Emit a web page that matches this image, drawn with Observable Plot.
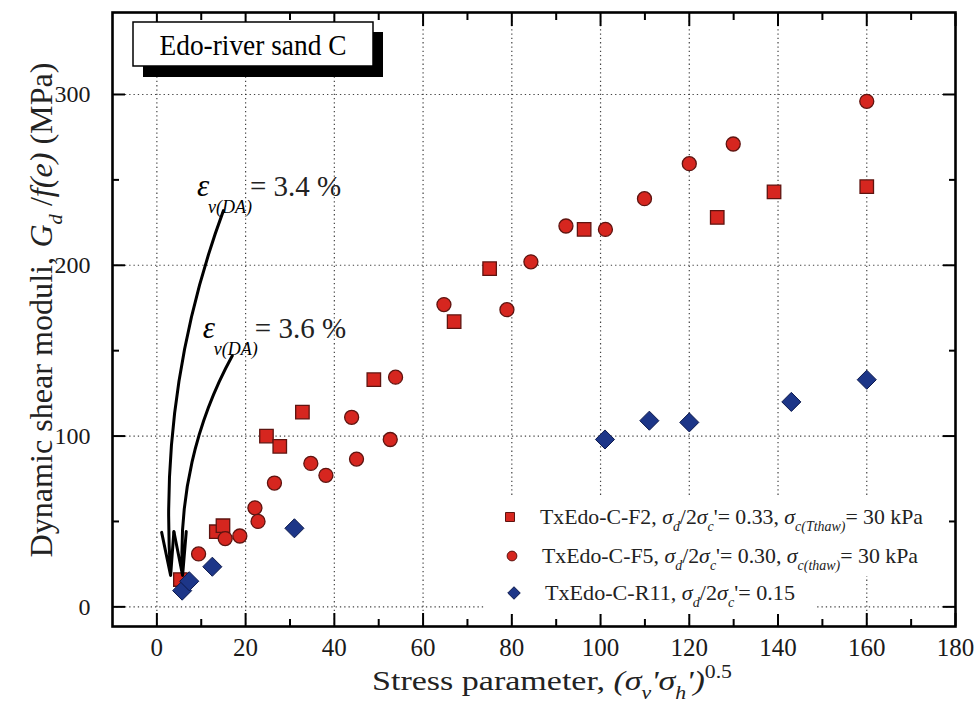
<!DOCTYPE html>
<html><head><meta charset="utf-8">
<script src="https://cdn.jsdelivr.net/npm/d3@7"></script>
<script src="https://cdn.jsdelivr.net/npm/@observablehq/plot@0.6"></script>
<style>
body{margin:0;background:#fff;}
#chart{width:980px;height:713px;}
</style></head><body><div id="chart"></div>
<script>
// ---- data ----
const f2X = [5.3, 13.4, 14.9, 24.7, 27.7, 32.8, 48.9, 67.0, 75.0, 96.3, 126.3, 139.1, 160];
const f2Y = [16, 44, 47.5, 100, 94, 114, 133, 167, 198, 221, 228, 243, 246];
const f5X = [9.4, 15.4, 18.7, 22.1, 22.8, 26.5, 34.7, 38.1, 43.9, 45.0, 52.6, 53.8, 64.7, 78.9, 84.3, 92.2, 101.1, 109.9, 120.0, 129.9, 160];
const f5Y = [31, 40, 41.5, 58, 50, 72.5, 84, 77, 111, 86.5, 98, 134.5, 177, 174, 202, 223, 221, 239, 259.5, 271, 296];
const r11X = [5.7, 7.3, 12.5, 31.0, 101.0, 111.0, 120.0, 143.0, 160];
const r11Y = [9.5, 15, 23.5, 46, 98, 109, 108, 120, 133];

const xMajor = [0, 20, 40, 60, 80, 100, 120, 140, 160, 180];
const xMinor = [10, 30, 50, 70, 90, 110, 130, 150, 170];
const yMajor = [0, 100, 200, 300];
const yMinor = [50, 150, 250];
const xGrid = [0, 20, 40, 60, 80, 100, 120, 140, 160];
const yGrid = [0, 100, 200, 300];

const seriesNames = ["TxEdo-C-F2", "TxEdo-C-F5", "TxEdo-C-R11"];
const seriesRatio = ["0.33", "0.30", "0.15"];
const seriesThaw = ["c(Tthaw)", "c(thaw)", null];
const panelTitle = "Edo-river sand C";

const epsText = ["= 3.4 %", "= 3.6 %"];
const epsX = [21.1, 22.2];
const epsY = [240, 157.2];
const arrowX1 = [15.0, 17.0], arrowY1 = [232, 147];
const arrowX2 = [3.1, 5.8], arrowY2 = [18.4, 18.4];

// ---- tables ----
const tab = (xs, ys) => xs.map((x, i) => ({x, y: ys[i]}));
const f2 = tab(f2X, f2Y), f5 = tab(f5X, f5Y), r11 = tab(r11X, r11Y);
const arrows = arrowX1.map((x1, i) => ({x1, y1: arrowY1[i], x2: arrowX2[i], y2: arrowY2[i]}));

const FONT = "'Liberation Serif','Times New Roman',Times,serif";
const RED = "#d6261f", RED_S = "#5e1410", BLUE = "#1d3688", BLUE_S = "#0d1a4d";

const tickOpts = {tickFormat: () => "", label: null, strokeWidth: 2, stroke: "black"};
const gridOpts = {stroke: "#222", strokeOpacity: 0.85, strokeDasharray: "1.3,3", strokeWidth: 1.2};
const arrowOpts = {x1: "x1", y1: "y1", x2: "x2", y2: "y2", stroke: "black", strokeWidth: 3, headLength: 22, headAngle: 16};

const plot = Plot.plot({
  width: 980, height: 713,
  marginLeft: 112, marginRight: 25, marginTop: 12, marginBottom: 87,
  style: {fontFamily: FONT, fontSize: "24px", background: "white", color: "black"},
  x: {domain: [-10, 180]},
  y: {domain: [-11.5, 348]},
  marks: [
    Plot.gridX(xGrid, gridOpts),
    Plot.gridY(yGrid, gridOpts),
    Plot.dot(f2, {x: "x", y: "y", symbol: "square", r: 7.6, fill: RED, stroke: RED_S, strokeWidth: 1.3}),
    Plot.dot(f5, {x: "x", y: "y", symbol: "circle", r: 7, fill: RED, stroke: RED_S, strokeWidth: 1.3}),
    Plot.dot(r11, {x: "x", y: "y", symbol: "diamond2", r: 8.6, fill: BLUE, stroke: BLUE_S, strokeWidth: 1}),
    Plot.arrow(arrows.slice(0, 1), {...arrowOpts, bend: -12}),
    Plot.arrow(arrows.slice(1, 2), {...arrowOpts, bend: -16}),
    Plot.axisX(xMajor, {anchor: "bottom", tickSize: 0, tickPadding: 12, fontSize: 25, fill: "#1a1a1a", label: null}),
    Plot.axisY(yMajor, {anchor: "left", tickSize: 0, tickPadding: 22, fontSize: 24, fill: "#1a1a1a", label: null}),
    Plot.axisX(xMajor, {anchor: "bottom", tickSize: -13, ...tickOpts}),
    Plot.axisX(xMinor, {anchor: "bottom", tickSize: -7, ...tickOpts}),
    Plot.axisX(xMajor, {anchor: "top", tickSize: -13, ...tickOpts}),
    Plot.axisX(xMinor, {anchor: "top", tickSize: -7, ...tickOpts}),
    Plot.axisY(yMajor, {anchor: "left", tickSize: -13, ...tickOpts}),
    Plot.axisY(yMinor, {anchor: "left", tickSize: -7, ...tickOpts}),
    Plot.axisY(yMajor, {anchor: "right", tickSize: -13, ...tickOpts}),
    Plot.axisY(yMinor, {anchor: "right", tickSize: -7, ...tickOpts}),
    Plot.frame({stroke: "black", strokeWidth: 2.6})
  ]
});
document.getElementById("chart").appendChild(plot);

// ---- rich text helper ----
function rich(g, x, y, parts, {size, anchor = "start", rotate = 0, length = null, fill = "black"}) {
  const t = g.append("text").attr("x", x).attr("y", y).attr("font-size", size)
    .attr("text-anchor", anchor).attr("fill", fill);
  if (rotate) t.attr("transform", `rotate(${rotate},${x},${y})`);
  let shift = 0;
  for (const p of parts) {
    const target = p.sub ? size * 0.33 : p.sup ? -size * 0.42 : 0;
    const s = t.append("tspan").text(p.t).attr("dy", target - shift);
    shift = target;
    if (p.sub || p.sup) s.attr("font-size", size * 0.64);
    if (p.i) s.attr("font-style", "italic");
    if (p.dx) s.attr("dx", p.dx);
  }
  if (length) t.attr("textLength", length).attr("lengthAdjust", "spacingAndGlyphs");
  return t;
}

const sx = plot.scale("x"), sy = plot.scale("y");
const svg = d3.select(plot);
svg.selectAll("text").style("font-family", FONT);
const g = svg.append("g").attr("font-family", FONT).style("font-family", FONT);

// panel title box with shadow
g.append("rect").attr("x", 143).attr("y", 32).attr("width", 240).attr("height", 45).attr("fill", "black");
g.append("rect").attr("x", 133).attr("y", 22).attr("width", 240).attr("height", 44)
  .attr("fill", "white").attr("stroke", "black").attr("stroke-width", 1.5);
rich(g, 253, 55, [{t: panelTitle}], {size: 29, anchor: "middle", length: 187});

// strain annotations
epsText.forEach((s, i) => {
  const x = sx.apply(epsX[i]), y = sy.apply(epsY[i]);
  rich(g, x - 53 + i * 1, y, [{t: "ε", i: true}], {size: 31});
  rich(g, x - 42 + i * 1, y + 17, [{t: "v(DA)", i: true}], {size: 18});
  rich(g, x, y, [{t: s}], {size: 29, fill: "#222"});
});

// legend
g.append("rect").attr("x", 486).attr("y", 496).attr("width", 446).attr("height", 80).attr("fill", "white");
g.append("rect").attr("x", 486).attr("y", 576).attr("width", 330).attr("height", 38).attr("fill", "white");
const legY = [524, 563, 600];
const legSym = [d3.symbolSquare, d3.symbolCircle, d3.symbolDiamond2];
const legSize = [81, 75, 100];
const legFill = [RED, RED, BLUE];
const legStroke = [RED_S, RED_S, BLUE_S];
const legLen = [383, 376, 250];
const legX = [540, 542, 545];
seriesNames.forEach((name, i) => {
  g.append("path").attr("d", d3.symbol(legSym[i], legSize[i])())
    .attr("transform", `translate(${510 + i * 2},${legY[i] - 7})`)
    .attr("fill", legFill[i]).attr("stroke", legStroke[i]).attr("stroke-width", 1);
  const parts = [
    {t: name + ", "}, {t: "σ", i: true}, {t: "d", i: true, sub: true}, {t: "/2"},
    {t: "σ", i: true}, {t: "c", i: true, sub: true}, {t: "'= " + seriesRatio[i] + (seriesThaw[i] ? ", " : "")}
  ];
  if (seriesThaw[i]) parts.push({t: "σ", i: true}, {t: seriesThaw[i], i: true, sub: true}, {t: "= 30 kPa"});
  rich(g, legX[i], legY[i], parts, {size: 22, length: legLen[i], fill: "#222"});
});

// axis titles
rich(g, 372, 690, [
  {t: "Stress parameter, "}, {t: "(σ", i: true}, {t: "v", i: true, sub: true}, {t: "'σ", i: true},
  {t: "h", i: true, sub: true}, {t: "')", i: true}, {t: "0.5", sup: true}
], {size: 28, length: 360, fill: "#222"});
rich(g, 52, 310, [
  {t: "Dynamic shear moduli,"}, {t: "G", i: true, dx: 9}, {t: "d", i: true, sub: true}, {t: " /"},
  {t: "f(e)", i: true}, {t: " (MPa)"}
], {size: 31, anchor: "middle", rotate: -90, length: 495, fill: "#222"});
</script></body></html>
